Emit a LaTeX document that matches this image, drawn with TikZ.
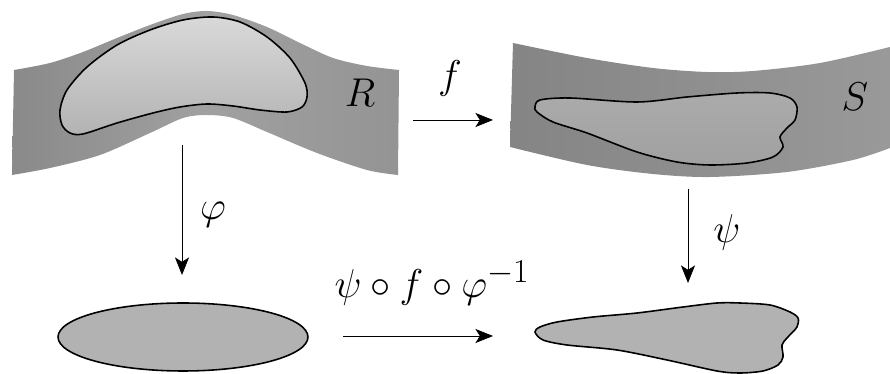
\documentclass[tikz,border=0pt]{standalone}
\usepackage{amsmath}
\usepackage{amssymb}
\usepackage{tikz}
\usetikzlibrary{
  arrows.meta
}

\begin{document}
\begin{tikzpicture}[>={Stealth[length=10pt,width=8pt,inset=2.5pt]},
  x=0.02cm, y=-0.02cm,
  every node/.style={font=\Huge, scale=0.92},
  blob/.style={draw=black, line width=0.9pt},
  map/.style={->, line width=0.5pt}]

  \useasboundingbox (0,0) rectangle (890,374);

  % 曲面 R（帯）
  \shade[left color=black!46, right color=black!42, middle color=black!37]
    plot[smooth] coordinates {(14,70) (50,63) (83,52) (117,38) (150,25)
      (183,14) (207,11) (233,15) (267,27) (300,43) (333,58) (367,66) (399,70)}
    -- plot[smooth] coordinates {(398,175) (367,170) (317,153) (267,132)
      (233,118) (207,115) (183,118) (150,133) (100,155) (50,168) (12,175)}
    -- cycle;

  % R 内の領域
  \shadedraw[blob, top color=black!15, bottom color=black!30]
    plot[smooth cycle] coordinates {(60,110) (67,90) (87,67) (117,45)
      (150,30) (183,20) (213,17) (240,22) (267,37) (290,58) (305,83)
      (307,97) (302,107) (287,112) (260,110) (233,106) (207,104) (180,107)
      (153,113) (117,123) (83,134) (70,133) (62,125)};

  \node (R) at (360,93) {$R$};

  % 曲面 S（帯）
  \shade[left color=black!48, right color=black!40]
    plot[smooth] coordinates {(513,43) (587,58) (653,68) (707,72) (753,71)
      (820,63) (890,47)}
    -- plot[smooth] coordinates {(890,148) (853,160) (787,172) (710,177)
      (653,174) (587,165) (510,147)}
    -- cycle;

  % S 内の像
  \shadedraw[blob, top color=black!33, bottom color=black!37]
    plot[smooth cycle, tension=0.5] coordinates {(535,107) (540,100)
      (570,98) (637,102) (687,97) (737,93) (770,93) (790,98) (797,107)
      (795,120) (787,128) (780,137) (783,147) (773,157) (747,163)
      (710,165) (677,162) (637,152) (587,133) (553,122) (537,112)};

  \node (S) at (855,97) {$S$};

  % 座標平面上の領域
  \draw[blob, fill=black!30] (183,337)
    ellipse [x radius=2.5cm, y radius=0.68cm];

  \draw[blob, fill=black!30]
    plot[smooth cycle, tension=0.5] coordinates {(535,332) (540,327)
      (557,322) (593,317) (637,313) (683,307) (717,303) (740,303)
      (770,305) (790,312) (798,318) (797,327) (787,338) (782,345)
      (783,357) (778,365) (763,371) (740,373) (717,371) (667,360)
      (617,350) (567,345) (543,340)};

  % 写像の矢印
  \coordinate (f0)   at (413,120);
  \coordinate (f1)   at (493,120);
  \coordinate (phi0) at (182,145);
  \coordinate (phi1) at (182,275);
  \coordinate (psi0) at (688,189);
  \coordinate (psi1) at (688,283);
  \coordinate (g0)   at (343,336);
  \coordinate (g1)   at (493,336);

  \draw[map] (f0) -- (f1);
  \draw[map] (phi0) -- (phi1);
  \draw[map] (psi0) -- (psi1);
  \draw[map] (g0) -- (g1);

  \node (f)   at (450,78)  {$f$};
  \node (phi) at (213,215) {$\varphi$};
  \node (psi) at (727,232) {$\psi$};
  \node (g)   at (432,283) {$\psi\circ f\circ\varphi^{-1}$};

\end{tikzpicture}
\end{document}
